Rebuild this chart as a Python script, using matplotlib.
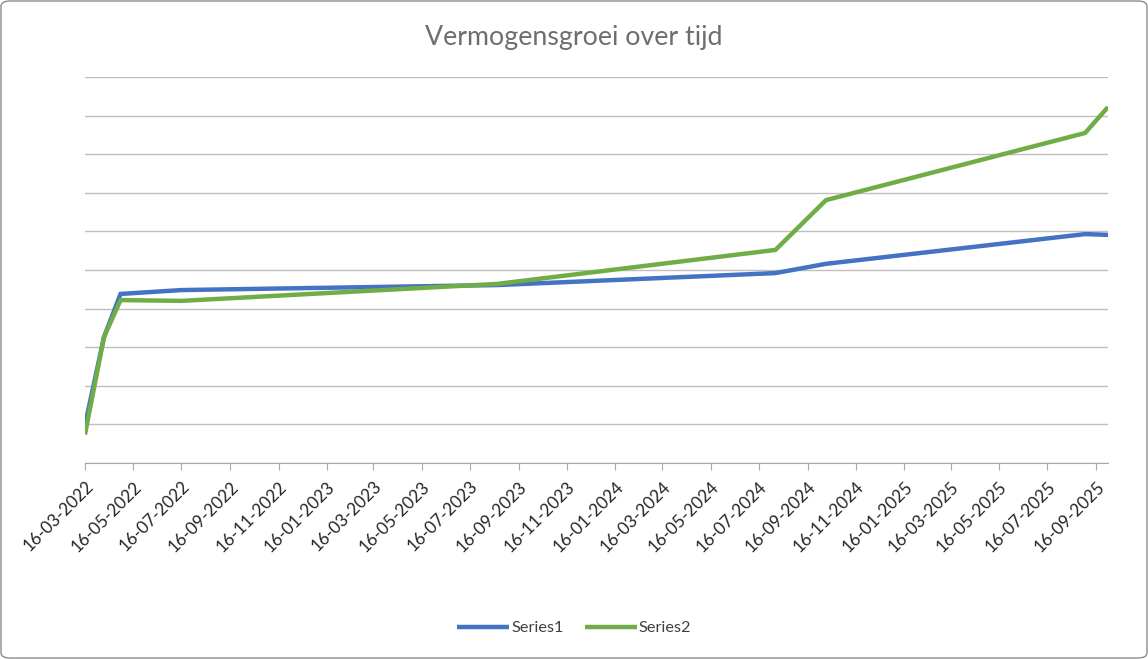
import matplotlib
matplotlib.use("Agg")
import matplotlib.pyplot as plt
import matplotlib.dates as mdates
from matplotlib.patches import FancyBboxPatch
import pandas as pd

# data (y in gridline units, axis has no labels)
dates = ["2022-03-16", "2022-04-09", "2022-04-30", "2022-07-16", "2023-08-20",
         "2024-08-06", "2024-10-09", "2025-09-02", "2025-10-01"]
series1 = [0.98, 3.26, 4.38, 4.48, 4.61, 4.92, 5.16, 5.93, 5.91]
series2 = [0.74, 3.26, 4.22, 4.20, 4.64, 5.52, 6.81, 8.55, 9.22]
names = ["Series1", "Series2"]
colors = ["#4472C4", "#70AD47"]
title = "Vermogensgroei over tijd"

plt.rcParams['font.family'] = ['Lato', 'DejaVu Sans']

x = pd.to_datetime(dates)
ticks = pd.date_range("2022-03-16", "2025-09-16", freq=pd.DateOffset(months=2))

fig = plt.figure(figsize=(11.48, 6.59), dpi=100)
ax = fig.add_axes([85/1148, 1 - 463/659, (1108-85)/1148, (463-77)/659])

for vals, name, c in zip([series1, series2], names, colors):
    ax.plot(x, vals, color=c, lw=3.2, label=name, solid_capstyle='butt',
            solid_joinstyle='miter')

ax.set_xlim(x[0], x[-1])
ax.set_ylim(0, 10)
ax.set_yticks(range(0, 11))
ax.yaxis.set_tick_params(length=0, labelleft=False)
ax.grid(axis='y', color='#BFBFBF', lw=1)
ax.set_axisbelow(True)

ax.set_xticks(ticks)
ax.xaxis.set_major_formatter(mdates.DateFormatter("%d-%m-%Y"))
ax.tick_params(axis='x', length=5, color='#A6A6A6', labelcolor='#262626',
               labelsize=12.3, pad=6)
for lbl in ax.get_xticklabels():
    lbl.set_rotation(45)
    lbl.set_ha('right')
    lbl.set_va('top')
    lbl.set_rotation_mode('anchor')

for s in ['top', 'right', 'left']:
    ax.spines[s].set_visible(False)
ax.spines['bottom'].set_color('#A6A6A6')

fig.text(0.5, 1 - 37/659, title, ha='center', va='center', fontsize=19.3,
         color='#6E6E6E')

fig.legend(loc='center', bbox_to_anchor=(0.5, 1 - 628/659), ncol=2,
           frameon=False, fontsize=11.7, handlelength=3.2, handletextpad=0.1,
           columnspacing=1.3)
for t in fig.legends[0].get_texts():
    t.set_color('#404040')

border = FancyBboxPatch((1/1148, 1/659), 1 - 2/1148, 1 - 2/659,
                        boxstyle="round,pad=0,rounding_size=0.008",
                        transform=fig.transFigure, fill=False,
                        edgecolor='#8C8C8C', lw=1)
fig.patches.append(border)

fig.savefig("out.png", dpi=100, facecolor='white')
